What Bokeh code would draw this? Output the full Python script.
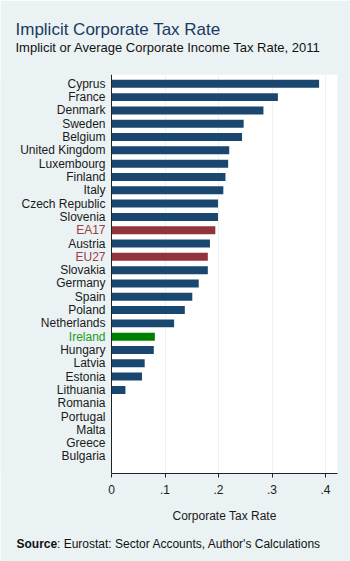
from bokeh.plotting import figure
from bokeh.models import (ColumnDataSource, Range1d, FixedTicker, Label, LabelSet,
                          BoxAnnotation, Span)
from bokeh.core.properties import value
from bokeh.embed import file_html
from bokeh.resources import INLINE

countries = ["Cyprus", "France", "Denmark", "Sweden", "Belgium", "United Kingdom",
             "Luxembourg", "Finland", "Italy", "Czech Republic", "Slovenia", "EA17",
             "Austria", "EU27", "Slovakia", "Germany", "Spain", "Poland", "Netherlands",
             "Ireland", "Hungary", "Latvia", "Estonia", "Lithuania", "Romania",
             "Portugal", "Malta", "Greece", "Bulgaria"]
rates = [0.388, 0.311, 0.284, 0.247, 0.244, 0.220, 0.218, 0.213, 0.209, 0.199,
         0.199, 0.194, 0.184, 0.180, 0.180, 0.163, 0.151, 0.137, 0.117, 0.081,
         0.079, 0.062, 0.057, 0.026, 0.0, 0.0, 0.0, 0.0, 0.0]
highlight_red = ["EA17", "EU27"]
highlight_green = ["Ireland"]
x_ticks = [0, 0.1, 0.2, 0.3, 0.4]
x_tick_labels = ["0", ".1", ".2", ".3", ".4"]

BG = "#EAF2F3"
NAVY = "#1A476F"
RED = "#90353B"
GREEN = "#008000"
RED_TXT = "#9A4048"
GREEN_TXT = "#1E9A1E"
TXT = "#1a1a1a"
FONT = "Liberation Sans"

X_MAX = 0.4224          # right edge of the white plot region
X_LABEL_ROOM = -0.2075  # room left of zero for the category names

def bar_color(c):
    if c in highlight_red:
        return RED
    if c in highlight_green:
        return GREEN
    return NAVY

def text_color(c):
    if c in highlight_red:
        return RED_TXT
    if c in highlight_green:
        return GREEN_TXT
    return TXT

n = len(countries)
idx = list(range(n))
src = ColumnDataSource(dict(
    y=idx, rate=rates, name=countries,
    fill=[bar_color(c) for c in countries],
    tcol=[text_color(c) for c in countries],
    zero=[0.0] * n,
))

p = figure(width=350, height=561, output_backend="svg", toolbar_location=None,
           x_range=Range1d(X_LABEL_ROOM, X_MAX),
           y_range=Range1d(n - 1 + 1.28, -0.7),
           y_axis_location=None,
           min_border_left=0, min_border_right=13, min_border_top=74,
           min_border_bottom=88)
p.background_fill_color = BG
p.border_fill_color = BG
p.outline_line_color = None

# white plot region right of zero
p.add_layout(BoxAnnotation(left=0, fill_color="white", fill_alpha=1.0,
                           line_color=None, level="image"))

p.hbar(y="y", right="rate", left=0, height=0.6, fill_color="fill",
       line_color=None, source=src)

# y axis line at zero
p.add_layout(Span(location=0, dimension="height", line_color="#222222",
                  line_width=1))

# x axis
p.xaxis.bounds = (0, X_MAX)
p.xaxis.ticker = FixedTicker(ticks=x_ticks)
p.xaxis.major_label_overrides = {t: l for t, l in zip(x_ticks, x_tick_labels)}
p.xaxis.major_label_text_font = FONT
p.xaxis.major_label_text_font_size = "12px"
p.xaxis.major_label_text_color = TXT
p.xaxis.major_label_standoff = 7
p.xaxis.major_tick_out = 4
p.xaxis.major_tick_in = 0
p.xaxis.minor_tick_line_color = None
p.xaxis.axis_line_color = "#222222"
p.xaxis.major_tick_line_color = "#222222"

p.xgrid.ticker = FixedTicker(ticks=x_ticks[1:])
p.xgrid.grid_line_color = BG
p.xgrid.grid_line_width = 1
p.ygrid.grid_line_color = None

# category names
p.add_layout(LabelSet(x="zero", y="y", text="name", source=src, x_offset=-6,
                      text_align="right", text_baseline="middle",
                      text_font=value(FONT), text_font_size=value("12px"),
                      text_color="tcol"))

# x axis title, centred on the plot region
p.add_layout(Label(x=X_MAX / 2, y=515, x_units="data", y_units="canvas",
                   text="Corporate Tax Rate", text_font=FONT,
                   text_font_size="12px", text_color=TXT, text_align="center",
                   text_baseline="alphabetic"), "below")

p.add_layout(Label(x=15, y=47, x_units="canvas", y_units="canvas",
                   text="Implicit or Average Corporate Income Tax Rate, 2011",
                   text_font=FONT, text_font_size="13px", text_color="#111111",
                   text_baseline="alphabetic"), "above")
p.add_layout(Label(x=15, y=29, x_units="canvas", y_units="canvas",
                   text="Implicit Corporate Tax Rate", text_font=FONT,
                   text_font_size="17px", text_color="#1A3A5F",
                   text_baseline="alphabetic"), "above")
p.add_layout(Label(x=16, y=543, x_units="canvas", y_units="canvas",
                   text="Source", text_font=FONT, text_font_size="12px",
                   text_font_style="bold", text_color="#111111",
                   text_baseline="alphabetic"), "below")
p.add_layout(Label(x=56.5, y=543, x_units="canvas", y_units="canvas",
                   text=": Eurostat: Sector Accounts, Author's Calculations",
                   text_font=FONT, text_font_size="12px", text_color="#111111",
                   text_baseline="alphabetic"), "below")

open("out.html", "w").write(file_html(p, INLINE))
